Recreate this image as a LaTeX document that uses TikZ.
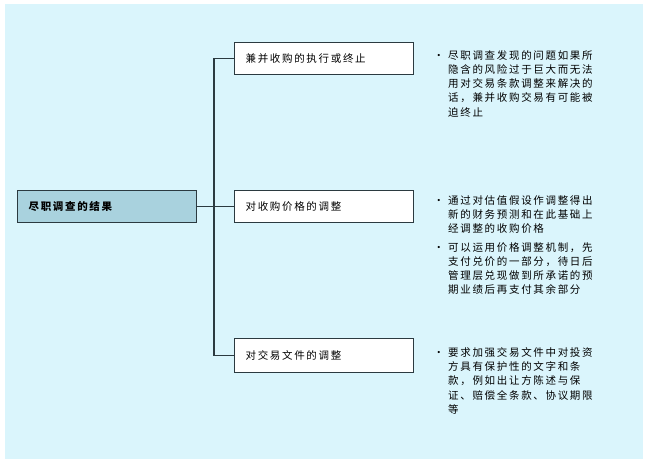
\documentclass[tikz,border=0pt]{standalone}
\usepackage{fontspec}
\newfontfamily\cjk[LetterSpace=16]{Noto Sans CJK SC}
\definecolor{sky}{HTML}{DAF5FC}
\definecolor{rootfill}{HTML}{A9D2DE}
\definecolor{edge}{HTML}{2B3A40}
\tikzset{
  cjktext/.style={font=\cjk\fontsize{10.5}{14.3}\selectfont},
  box/.style={cjktext,draw=edge,line width=1.2pt,fill=white,minimum height=32pt,
    text width=157pt,inner xsep=11pt,align=left,anchor=north west},
  note/.style={cjktext,anchor=north west,inner sep=0pt,align=left}
}
\begin{document}
\begin{tikzpicture}[x=1pt,y=-1pt]
\useasboundingbox (0,0) rectangle (650,468);
\fill[sky] (5,4) rectangle (643,459);

      \begin{scope}[every node/.style={box}]
        \node[fill=rootfill,font=\cjk\bfseries\fontsize{10.5}{14.3}\selectfont] (0) at (17,190) {尽职调查的结果};
        \node (1) at (234,42)  {兼并收购的执行或终止};
        \node (2) at (234,190) {对收购价格的调整};
        \node[minimum height=34pt] (3) at (234,338) {对交易文件的调整};
      \end{scope}

      \begin{scope}[every node/.style={note}]
        \node (n1) at (448,50) {\llap{•\hspace{4pt}}尽职调查发现的问题如果所\\隐含的风险过于巨大而无法\\用对交易条款调整来解决的\\话，兼并收购交易有可能被\\迫终止};
        \node (n2) at (448,195) {\llap{•\hspace{4pt}}通过对估值假设作调整得出\\新的财务预测和在此基础上\\经调整的收购价格};
        \node (n3) at (448,242) {\llap{•\hspace{4pt}}可以运用价格调整机制，先\\支付兑价的一部分，待日后\\管理层兑现做到所承诺的预\\期业绩后再支付其余部分};
        \node (n4) at (448,347) {\llap{•\hspace{4pt}}要求加强交易文件中对投资\\方具有保护性的文字和条\\款，例如出让方陈述与保\\证、赔偿全条款、协议期限\\等};
      \end{scope}

      \begin{scope}[draw=edge,line width=1.2pt]
        \coordinate (trunk) at (214,0);
        \draw (1.west) -- (1.west -| trunk) |- (3.west);
        \draw (0.east) -- (2.west);
      \end{scope}

\end{tikzpicture}
\end{document}
